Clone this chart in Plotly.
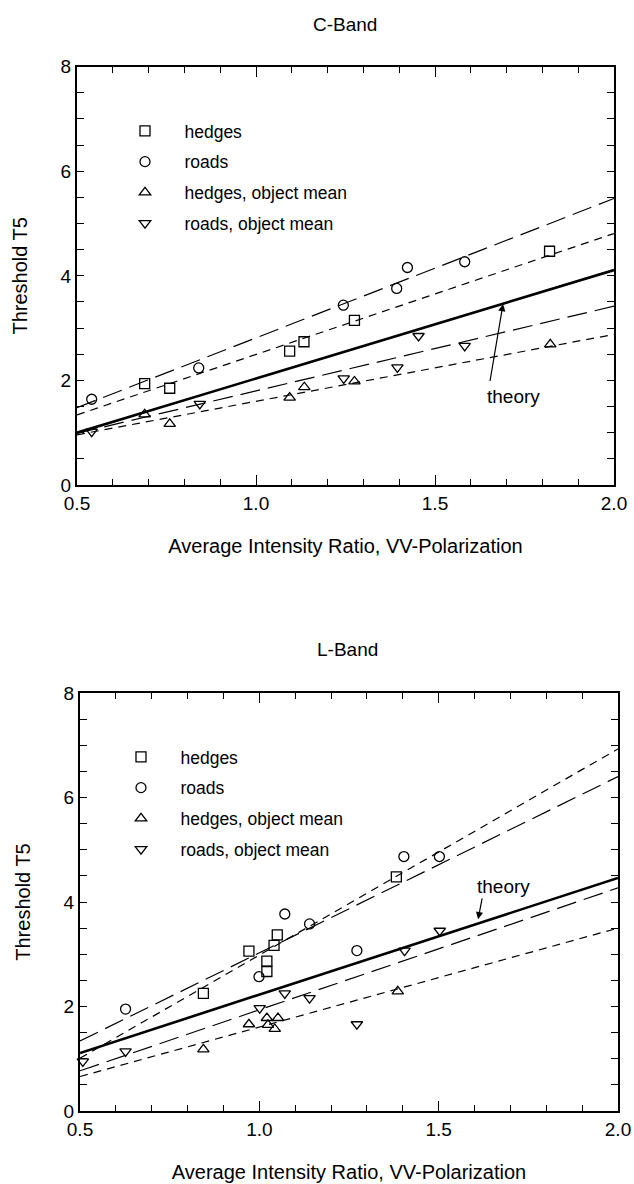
import plotly.graph_objects as go

# ---------------- C-Band data ----------------
c_hedges_x = [0.689, 0.759, 1.094, 1.134, 1.275, 1.820]
c_hedges_y = [1.94, 1.85, 2.56, 2.74, 3.15, 4.47]
c_roads_x = [0.541, 0.840, 1.244, 1.393, 1.423, 1.583]
c_roads_y = [1.64, 2.24, 3.44, 3.76, 4.16, 4.27]
c_hedges_om_x = [0.689, 0.759, 1.094, 1.135, 1.275, 1.822]
c_hedges_om_y = [1.35, 1.17, 1.67, 1.87, 1.98, 2.69]
c_roads_om_x = [0.541, 0.843, 1.245, 1.395, 1.454, 1.583]
c_roads_om_y = [1.02, 1.55, 2.04, 2.25, 2.85, 2.66]

c_fit_x = [0.5, 2.0]
c_fit_roads = [1.48, 5.48]
c_fit_hedges = [1.34, 4.81]
c_theory = [1.00, 4.11]
c_fit_roads_om = [0.99, 3.42]
c_fit_hedges_om = [0.96, 2.88]

# ---------------- L-Band data ----------------
l_hedges_x = [0.844, 0.971, 1.021, 1.021, 1.041, 1.050, 1.382]
l_hedges_y = [2.25, 3.06, 2.87, 2.67, 3.17, 3.37, 4.48]
l_roads_x = [0.627, 0.999, 1.071, 1.140, 1.272, 1.403, 1.502]
l_roads_y = [1.95, 2.57, 3.77, 3.58, 3.07, 4.87, 4.87]
l_hedges_om_x = [0.844, 0.971, 1.021, 1.024, 1.043, 1.052, 1.386]
l_hedges_om_y = [1.18, 1.66, 1.78, 1.65, 1.57, 1.78, 2.29]
l_roads_om_x = [0.508, 0.627, 1.001, 1.071, 1.140, 1.272, 1.405, 1.503]
l_roads_om_y = [0.95, 1.14, 1.97, 2.25, 2.16, 1.66, 3.07, 3.45]

l_fit_x = [0.5, 2.0]
l_fit_hedges = [1.01, 6.93]
l_fit_roads = [1.34, 6.40]
l_theory = [1.11, 4.46]
l_fit_roads_om = [0.77, 4.27]
l_fit_hedges_om = [0.66, 3.50]

legend_names = ["hedges", "roads", "hedges, object mean", "roads, object mean"]
x_tick_vals = [0.5, 1.0, 1.5, 2.0]
y_tick_vals = [0, 2, 4, 6, 8]

FONT = "Liberation Sans, Arial, Helvetica, sans-serif"
W, H = 634, 1184
NB = "\u00a0" * 4

fig = go.Figure()

symbols = ["square-open", "circle-open", "triangle-up-open", "triangle-down-open"]


def add_panel(xa, ya, legend, pts, fits, fx):
    for i, (px, py) in enumerate(pts):
        fig.add_trace(go.Scatter(
            x=px, y=py, mode="markers", name=NB + legend_names[i],
            xaxis=xa, yaxis=ya, legend=legend, legendgroup=legend + str(i),
            marker=dict(symbol=symbols[i], size=10, color="black",
                        line=dict(color="black", width=1.3)),
            cliponaxis=False,
        ))
    styles = [("20px,8px", 1.2), ("8px,6px", 1.2), ("solid", 2.6),
              ("20px,8px", 1.2), ("8px,6px", 1.2)]
    for fy, (dash, w) in zip(fits, styles):
        fig.add_trace(go.Scatter(
            x=fx, y=fy, mode="lines", showlegend=False,
            xaxis=xa, yaxis=ya,
            line=dict(color="black", width=w, dash=dash),
        ))


add_panel("x", "y", "legend",
          [(c_hedges_x, c_hedges_y), (c_roads_x, c_roads_y),
           (c_hedges_om_x, c_hedges_om_y), (c_roads_om_x, c_roads_om_y)],
          [c_fit_roads, c_fit_hedges, c_theory, c_fit_roads_om, c_fit_hedges_om],
          c_fit_x)
add_panel("x2", "y2", "legend2",
          [(l_hedges_x, l_hedges_y), (l_roads_x, l_roads_y),
           (l_hedges_om_x, l_hedges_om_y), (l_roads_om_x, l_roads_om_y)],
          [l_fit_roads, l_fit_hedges, l_theory, l_fit_roads_om, l_fit_hedges_om],
          l_fit_x)

xcommon = dict(
    range=[0.5, 2.0], showline=True, linecolor="black", linewidth=2,
    mirror="allticks", ticks="inside", ticklen=10, tickwidth=1.3, tickcolor="black",
    tickvals=x_tick_vals, tickformat=".1f", showgrid=False, zeroline=False,
    automargin=False,
    minor=dict(dtick=0.1, tick0=0.5, ticks="inside", ticklen=6, tickwidth=1.2,
               tickcolor="black", showgrid=False),
    tickfont=dict(family=FONT, size=19, color="black"),
    title=dict(text="Average Intensity Ratio, VV-Polarization",
               font=dict(family=FONT, size=20, color="black"), standoff=26),
)
ycommon = dict(
    range=[0, 8], showline=True, linecolor="black", linewidth=2,
    mirror="allticks", ticks="inside", ticklen=7, tickwidth=1.3, tickcolor="black",
    tickvals=y_tick_vals, showgrid=False, zeroline=False,
    automargin=False,
    minor=dict(dtick=0.5, tick0=0, ticks="inside", ticklen=7, tickwidth=1.2,
               tickcolor="black", showgrid=False),
    tickfont=dict(family=FONT, size=19, color="black"),
    title=dict(text="Threshold T5",
               font=dict(family=FONT, size=20, color="black"), standoff=28),
)

legcommon = dict(
    bgcolor="rgba(0,0,0,0)", borderwidth=0, xanchor="left", yanchor="top",
    font=dict(family=FONT, size=17.5, color="black"), tracegroupgap=5,
    itemclick=False,
)

fig.update_layout(
    width=W, height=H, autosize=False,
    margin=dict(l=0, r=0, t=0, b=0, autoexpand=False),
    paper_bgcolor="white", plot_bgcolor="white",
    font=dict(family=FONT, color="black"),
    xaxis=dict(domain=[77 / W, 614 / W], anchor="y", **xcommon),
    yaxis=dict(domain=[1 - 485 / H, 1 - 66.7 / H], anchor="x", **ycommon),
    xaxis2=dict(domain=[80 / W, 618 / W], anchor="y2", **xcommon),
    yaxis2=dict(domain=[1 - 1111 / H, 1 - 693 / H], anchor="x2", **ycommon),
    legend=dict(x=(147 - 22) / W, y=1 - (127 - 14) / H, **legcommon),
    legend2=dict(x=(143 - 22) / W, y=1 - (753 - 14) / H, **legcommon),
    showlegend=True,
)

# panel titles
fig.add_annotation(text="C-Band", xref="paper", yref="paper",
                   x=345 / W, y=1 - 24 / H, yanchor="middle", showarrow=False,
                   font=dict(family=FONT, size=19, color="black"))
fig.add_annotation(text="L-Band", xref="paper", yref="paper",
                   x=347 / W, y=1 - 649 / H, yanchor="middle", showarrow=False,
                   font=dict(family=FONT, size=19, color="black"))

# theory labels and arrows
fig.add_annotation(text="theory", xref="x", yref="y", x=1.72, y=1.69,
                   showarrow=False, font=dict(family=FONT, size=19, color="black"))
fig.add_annotation(text="", xref="x", yref="y", x=1.690, y=3.46,
                   axref="x", ayref="y", ax=1.653, ay=1.96,
                   showarrow=True, arrowhead=2, arrowsize=1.2, arrowwidth=1.2,
                   arrowcolor="black")
fig.add_annotation(text="theory", xref="x2", yref="y2", x=1.682, y=4.30,
                   showarrow=False, font=dict(family=FONT, size=19, color="black"))
fig.add_annotation(text="", xref="x2", yref="y2", x=1.610, y=3.67,
                   axref="x2", ayref="y2", ax=1.622, ay=4.10,
                   showarrow=True, arrowhead=2, arrowsize=1.2, arrowwidth=1.2,
                   arrowcolor="black")

fig.write_html("out.html")
